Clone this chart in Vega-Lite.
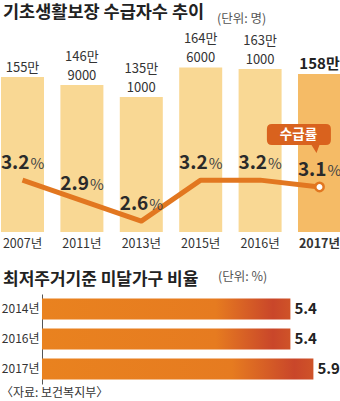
{
  "$schema": "https://vega.github.io/schema/vega-lite/v6.json",
  "padding": {"top": 3, "left": 0, "right": 0, "bottom": 0},
  "background": "white",
  "config": {"view": {"stroke": null}, "font": "Noto Sans CJK KR", "title": {"font": "Noto Sans CJK KR"}},
  "datasets": {
    "recipients": [
      {"year": "2007년", "count": 155, "lower": "155만", "upper": null, "rate": 3.2},
      {"year": "2011년", "count": 146.9, "lower": "9000", "upper": "146만", "rate": 2.9},
      {"year": "2013년", "count": 135.1, "lower": "1000", "upper": "135만", "rate": 2.6},
      {"year": "2015년", "count": 164.6, "lower": "6000", "upper": "164만", "rate": 3.2},
      {"year": "2016년", "count": 163.1, "lower": "1000", "upper": "163만", "rate": 3.2},
      {"year": "2017년", "count": 158, "lower": "158만", "upper": null, "rate": 3.1}
    ],
    "housing": [
      {"year": "2014년", "ratio": 5.4},
      {"year": "2016년", "ratio": 5.4},
      {"year": "2017년", "ratio": 5.9}
    ]
  },
  "title": {"text": "〈자료: 보건복지부〉", "orient": "bottom", "anchor": "start", "frame": "bounds", "fontSize": 12, "fontWeight": "normal", "color": "#333", "offset": 4},
  "spacing": 20,
  "vconcat": [
    {
      "title": {"text": "(단위: 명)", "anchor": "start", "frame": "group", "dx": 216, "dy": 26, "fontSize": 12.5, "fontWeight": "normal", "color": "#555"},
      "vconcat": [
        {
          "title": {"text": "기초생활보장 수급자수 추이", "anchor": "start", "frame": "group", "dx": 2, "fontSize": 17.5, "fontWeight": "bold", "color": "#222", "offset": 9},
          "width": 340,
          "height": 202,
          "data": {"name": "recipients"},
          "encoding": {
            "x": {
              "field": "year", "type": "nominal", "sort": null,
              "scale": {"paddingInner": 0.276, "paddingOuter": 0},
              "axis": {
                "title": null, "domain": false, "ticks": false, "labelAngle": 0,
                "labelFontSize": 12.5, "labelPadding": 5, "labelColor": "#333",
                "labelFontWeight": {"condition": {"test": "datum.value === '2017년'", "value": "bold"}, "value": "normal"}
              }
            }
          },
          "layer": [
            {
              "encoding": {"y": {"field": "count", "type": "quantitative", "scale": {"domain": [0, 202], "nice": false, "zero": true}, "axis": null}},
              "layer": [
                {
                  "mark": {"type": "bar"},
                  "encoding": {"color": {"condition": {"test": "datum.year === '2017년'", "value": "#f5bb66"}, "value": "#f9d894"}}
                },
                {
                  "transform": [{"filter": "datum.year !== '2017년'"}],
                  "mark": {"type": "text", "baseline": "bottom", "dy": -2, "fontSize": 13, "color": "#333"},
                  "encoding": {"text": {"field": "lower"}}
                },
                {
                  "transform": [{"filter": "datum.upper != null"}],
                  "mark": {"type": "text", "baseline": "bottom", "dy": -21, "fontSize": 13, "color": "#333"},
                  "encoding": {"text": {"field": "upper"}}
                },
                {
                  "transform": [{"filter": "datum.year === '2017년'"}],
                  "mark": {"type": "text", "baseline": "bottom", "dy": -2, "fontSize": 15, "fontWeight": "bold", "color": "#222"},
                  "encoding": {"text": {"field": "lower"}}
                }
              ]
            },
            {
              "encoding": {"y": {"field": "rate", "type": "quantitative", "scale": {"domain": [2.44, 5.4], "nice": false, "zero": false}, "axis": null}},
              "layer": [
                {"mark": {"type": "line", "color": "#e27720", "strokeWidth": 5, "strokeJoin": "round"}, "encoding": {}},
                {
                  "transform": [{"filter": "datum.year === '2017년'"}],
                  "mark": {"type": "point", "filled": true, "fill": "white", "stroke": "#e27720", "strokeWidth": 2.5, "size": 70, "opacity": 1}
                },
                {
                  "mark": {"type": "text", "align": "right", "baseline": "alphabetic", "dx": 7, "dy": -11, "fontSize": 19, "fontWeight": "bold", "color": "#2a2a2a"},
                  "encoding": {"text": {"field": "rate", "type": "quantitative", "format": ".1f"}}
                },
                {
                  "mark": {"type": "text", "align": "left", "baseline": "alphabetic", "dx": 8, "dy": -11, "fontSize": 15, "color": "#444", "text": "%"}
                },
                {
                  "transform": [{"filter": "datum.year === '2017년'"}],
                  "mark": {"type": "point", "shape": "M -4.76 -6.3 L 0.64 -6.3 Q 1.14 -6.3 1.14 -5.8 L 1.14 -4.7 Q 1.14 -4.2 0.64 -4.2 L 0 -4.2 L -0.3 -3.4 L -0.8 -4.2 L -4.76 -4.2 Q -5.26 -4.2 -5.26 -4.7 L -5.26 -5.8 Q -5.26 -6.3 -4.76 -6.3 Z", "size": 400, "filled": true, "color": "#d9621e", "opacity": 1}
                },
                {
                  "transform": [{"filter": "datum.year === '2017년'"}],
                  "mark": {"type": "text", "text": "수급률", "dx": -21, "dy": -52, "fontSize": 13.5, "fontWeight": "bold", "color": "white", "baseline": "middle"}
                }
              ]
            }
          ],
          "resolve": {"scale": {"y": "independent"}}
        }
      ]
    },
    {
      "title": {"text": "(단위: %)", "anchor": "start", "frame": "group", "dx": 217, "dy": 16, "fontSize": 12.5, "fontWeight": "normal", "color": "#555"},
      "vconcat": [
        {
          "title": {"text": "최저주거기준 미달가구 비율", "anchor": "start", "frame": "bounds", "dx": 2, "fontSize": 17, "fontWeight": "bold", "color": "#222", "offset": 5},
          "width": 340,
          "height": 90,
          "data": {"name": "housing"},
          "encoding": {
            "y": {
              "field": "year", "type": "nominal", "sort": null,
              "scale": {"paddingInner": 0.3, "paddingOuter": 0.15},
              "axis": {"title": null, "offset": -41, "domain": true, "domainColor": "#555", "domainWidth": 1, "ticks": false, "labelFontSize": 12, "labelPadding": 3, "labelColor": "#333"}
            },
            "x": {"field": "ratio", "type": "quantitative", "scale": {"domain": [-0.891, 6.5], "nice": false, "zero": false}, "axis": null}
          },
          "layer": [
            {
              "mark": {
                "type": "bar",
                "color": {"gradient": "linear", "x1": 0, "x2": 1, "y1": 0, "y2": 0, "stops": [
                  {"offset": 0, "color": "#e9821f"},
                  {"offset": 0.7, "color": "#e67b20"},
                  {"offset": 0.93, "color": "#c9462a"},
                  {"offset": 1, "color": "#cf5328"}
                ]}
              }
            },
            {
              "mark": {"type": "text", "align": "left", "baseline": "middle", "dx": 4, "fontSize": 15, "fontWeight": "bold", "color": "#222"},
              "encoding": {"text": {"field": "ratio", "type": "quantitative", "format": ".1f"}}
            }
          ]
        }
      ]
    }
  ]
}
